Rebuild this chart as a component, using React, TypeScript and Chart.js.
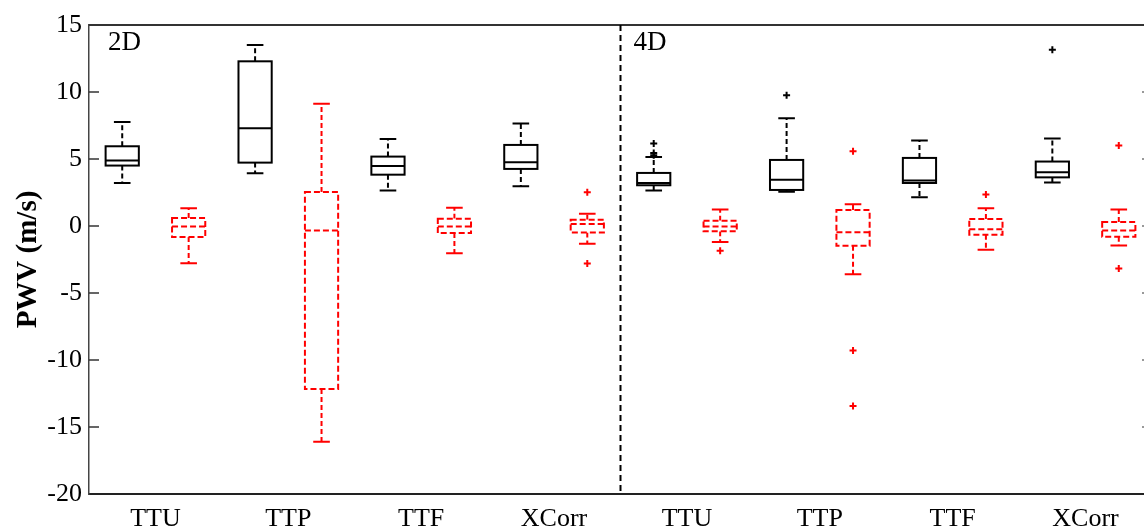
import React, { useEffect, useRef } from "react";
import { Chart, registerables } from "chart.js";

Chart.register(...registerables);

// Category labels (x axis), one per pair of boxes
const categories = ["TTU", "TTP", "TTF", "XCorr", "TTU", "TTP", "TTF", "XCorr"];
const panelLabels = ["2D", "4D"];
const yTicks = [-20, -15, -10, -5, 0, 5, 10, 15];

// Black (solid) box statistics, 8 groups
const blackLow = [3.21, 3.93, 2.64, 2.96, 2.64, 2.55, 2.14, 3.24];
const blackQ1 = [4.51, 4.73, 3.83, 4.26, 3.04, 2.69, 3.21, 3.63];
const blackMed = [4.88, 7.3, 4.48, 4.76, 3.21, 3.46, 3.39, 4.01];
const blackQ3 = [5.95, 12.29, 5.18, 6.05, 3.96, 4.93, 5.08, 4.81];
const blackHigh = [7.77, 13.5, 6.5, 7.65, 5.15, 8.05, 6.38, 6.53];
const blackOutliers = [[], [], [], [], [6.15, 5.45, 5.28], [9.75], [], [13.16]];

// Red (dashed) box statistics, 8 groups
const redLow = [-2.78, -16.11, -2.03, -1.32, -1.2, -3.6, -1.77, -1.45];
const redQ1 = [-0.83, -12.17, -0.53, -0.48, -0.4, -1.47, -0.65, -0.8];
const redMed = [-0.03, -0.33, -0.03, 0.14, -0.03, -0.46, -0.25, -0.33];
const redQ3 = [0.59, 2.54, 0.55, 0.47, 0.4, 1.19, 0.52, 0.29];
const redHigh = [1.32, 9.12, 1.37, 0.92, 1.24, 1.62, 1.32, 1.24];
const redOutliers = [[], [], [], [2.51, -2.8], [-1.85], [5.58, -9.3, -13.44], [2.36], [6.0, -3.17]];

const FONT = "'Liberation Serif', 'Times New Roman', serif";

function boxPlugin() {
  return {
    id: "boxes",
    beforeDatasetsDraw(chart: any) {
      const { ctx, chartArea, scales } = chart;
      const x = scales.x;
      const y = scales.y;
      const drawBox = (pos: number, lo: number, q1: number, med: number, q3: number, hi: number, color: string, dashed: boolean) => {
        const cx = x.getPixelForValue(pos);
        const hw = x.getPixelForValue(pos + 0.25) - cx;
        const cw = x.getPixelForValue(pos + 0.125) - cx;
        const pLo = y.getPixelForValue(lo);
        const pQ1 = y.getPixelForValue(q1);
        const pMed = y.getPixelForValue(med);
        const pQ3 = y.getPixelForValue(q3);
        const pHi = y.getPixelForValue(hi);
        ctx.save();
        ctx.strokeStyle = color;
        ctx.lineWidth = 2;
        // whiskers (dashed)
        ctx.setLineDash([5, 3]);
        ctx.beginPath();
        ctx.moveTo(cx, pQ3);
        ctx.lineTo(cx, pHi);
        ctx.moveTo(cx, pQ1);
        ctx.lineTo(cx, pLo);
        ctx.stroke();
        // caps (solid)
        ctx.setLineDash([]);
        ctx.beginPath();
        ctx.moveTo(cx - cw, pHi);
        ctx.lineTo(cx + cw, pHi);
        ctx.moveTo(cx - cw, pLo);
        ctx.lineTo(cx + cw, pLo);
        ctx.stroke();
        // box and median
        ctx.setLineDash(dashed ? [6, 3] : []);
        ctx.fillStyle = "#ffffff";
        ctx.fillRect(cx - hw, pQ3, 2 * hw, pQ1 - pQ3);
        ctx.strokeRect(cx - hw, pQ3, 2 * hw, pQ1 - pQ3);
        ctx.beginPath();
        ctx.moveTo(cx - hw, pMed);
        ctx.lineTo(cx + hw, pMed);
        ctx.stroke();
        ctx.restore();
      };
      for (let i = 0; i < categories.length; i++) {
        drawBox(2 * i + 1, blackLow[i], blackQ1[i], blackMed[i], blackQ3[i], blackHigh[i], "#000000", false);
        drawBox(2 * i + 2, redLow[i], redQ1[i], redMed[i], redQ3[i], redHigh[i], "#ff0000", true);
      }

      ctx.save();
      // frame top + right
      ctx.strokeStyle = "#333333";
      ctx.lineWidth = 2;
      ctx.beginPath();
      ctx.moveTo(chartArea.left, chartArea.top);
      ctx.lineTo(chartArea.right, chartArea.top);
      ctx.lineTo(chartArea.right, chartArea.bottom);
      ctx.stroke();
      // inner tick marks on left and right
      ctx.lineWidth = 1.5;
      for (const v of yTicks) {
        if (v === yTicks[0] || v === yTicks[yTicks.length - 1]) continue;
        const py = y.getPixelForValue(v);
        ctx.strokeStyle = "#333333";
        ctx.beginPath();
        ctx.moveTo(chartArea.left, py);
        ctx.lineTo(chartArea.left + 10, py);
        ctx.stroke();
        ctx.strokeStyle = "#777777";
        ctx.beginPath();
        ctx.moveTo(chartArea.right - 10, py);
        ctx.lineTo(chartArea.right, py);
        ctx.stroke();
      }
      // divider between 2D and 4D
      const dx = x.getPixelForValue(categories.length + 0.5);
      ctx.strokeStyle = "#000000";
      ctx.lineWidth = 2;
      ctx.setLineDash([6, 4]);
      ctx.beginPath();
      ctx.moveTo(dx, chartArea.top);
      ctx.lineTo(dx, chartArea.bottom);
      ctx.stroke();
      ctx.setLineDash([]);
      // panel labels
      ctx.fillStyle = "#000000";
      ctx.font = `27px ${FONT}`;
      ctx.textBaseline = "middle";
      ctx.textAlign = "left";
      ctx.fillText(panelLabels[0], chartArea.left + 19, chartArea.top + 18);
      ctx.fillText(panelLabels[1], dx + 13, chartArea.top + 18);
      // y title
      ctx.font = `bold 29px ${FONT}`;
      ctx.textAlign = "center";
      ctx.translate(29, (chartArea.top + chartArea.bottom) / 2);
      ctx.rotate(-Math.PI / 2);
      ctx.fillText("PWV (m/s)", 0, 0);
      ctx.restore();
    },
  };
}

export default function App() {
  const ref = useRef<HTMLCanvasElement | null>(null);
  useEffect(() => {
    if (!ref.current) return;
    const blackPts: any[] = [];
    const redPts: any[] = [];
    blackOutliers.forEach((arr, i) => arr.forEach((v) => blackPts.push({ x: 2 * i + 1, y: v })));
    redOutliers.forEach((arr, i) => arr.forEach((v) => redPts.push({ x: 2 * i + 2, y: v })));
    const chart = new Chart(ref.current, {
      type: "scatter",
      data: {
        datasets: [
          { data: blackPts, pointStyle: "cross", radius: 3.5, borderWidth: 2, borderColor: "#000000", backgroundColor: "#000000" } as any,
          { data: redPts, pointStyle: "cross", radius: 3.5, borderWidth: 2, borderColor: "#ff0000", backgroundColor: "#ff0000" } as any,
        ],
      },
      options: {
        responsive: false,
        animation: false,
        events: [],
        layout: { padding: { top: 25, right: 8, left: 0, bottom: 0 } },
        plugins: { legend: { display: false }, tooltip: { enabled: false } },
        scales: {
          x: {
            type: "linear",
            min: 0.5,
            max: 16.5,
            grid: { display: false, drawTicks: false },
            border: { display: true, color: "#222222", width: 2 },
            afterBuildTicks: (s: any) => {
              s.ticks = categories.map((_, i) => ({ value: 2 * i + 1.5 }));
            },
            afterFit: (s: any) => {
              s.height = 37;
            },
            ticks: {
              padding: 10,
              color: "#000000",
              font: { family: FONT, size: 26 },
              callback: (v: any) => categories[Math.round((Number(v) - 1.5) / 2)],
              maxRotation: 0,
              autoSkip: false,
            },
          },
          y: {
            min: -20,
            max: 15,
            grid: { display: false, drawTicks: false },
            border: { display: true, color: "#444444", width: 1.5 },
            afterBuildTicks: (s: any) => {
              s.ticks = yTicks.map((v) => ({ value: v }));
            },
            afterFit: (s: any) => {
              s.width = 89;
            },
            ticks: {
              padding: 7,
              color: "#000000",
              font: { family: FONT, size: 26 },
            },
          },
        },
      },
      plugins: [boxPlugin()],
    });
    return () => chart.destroy();
  }, []);
  return (
    <div style={{ position: "absolute", left: 0, top: 0, width: 1144, height: 531, overflow: "hidden", background: "#fff" }}>
      <canvas ref={ref} width={1160} height={531} style={{ width: 1160, height: 531, display: "block" }} />
    </div>
  );
}
